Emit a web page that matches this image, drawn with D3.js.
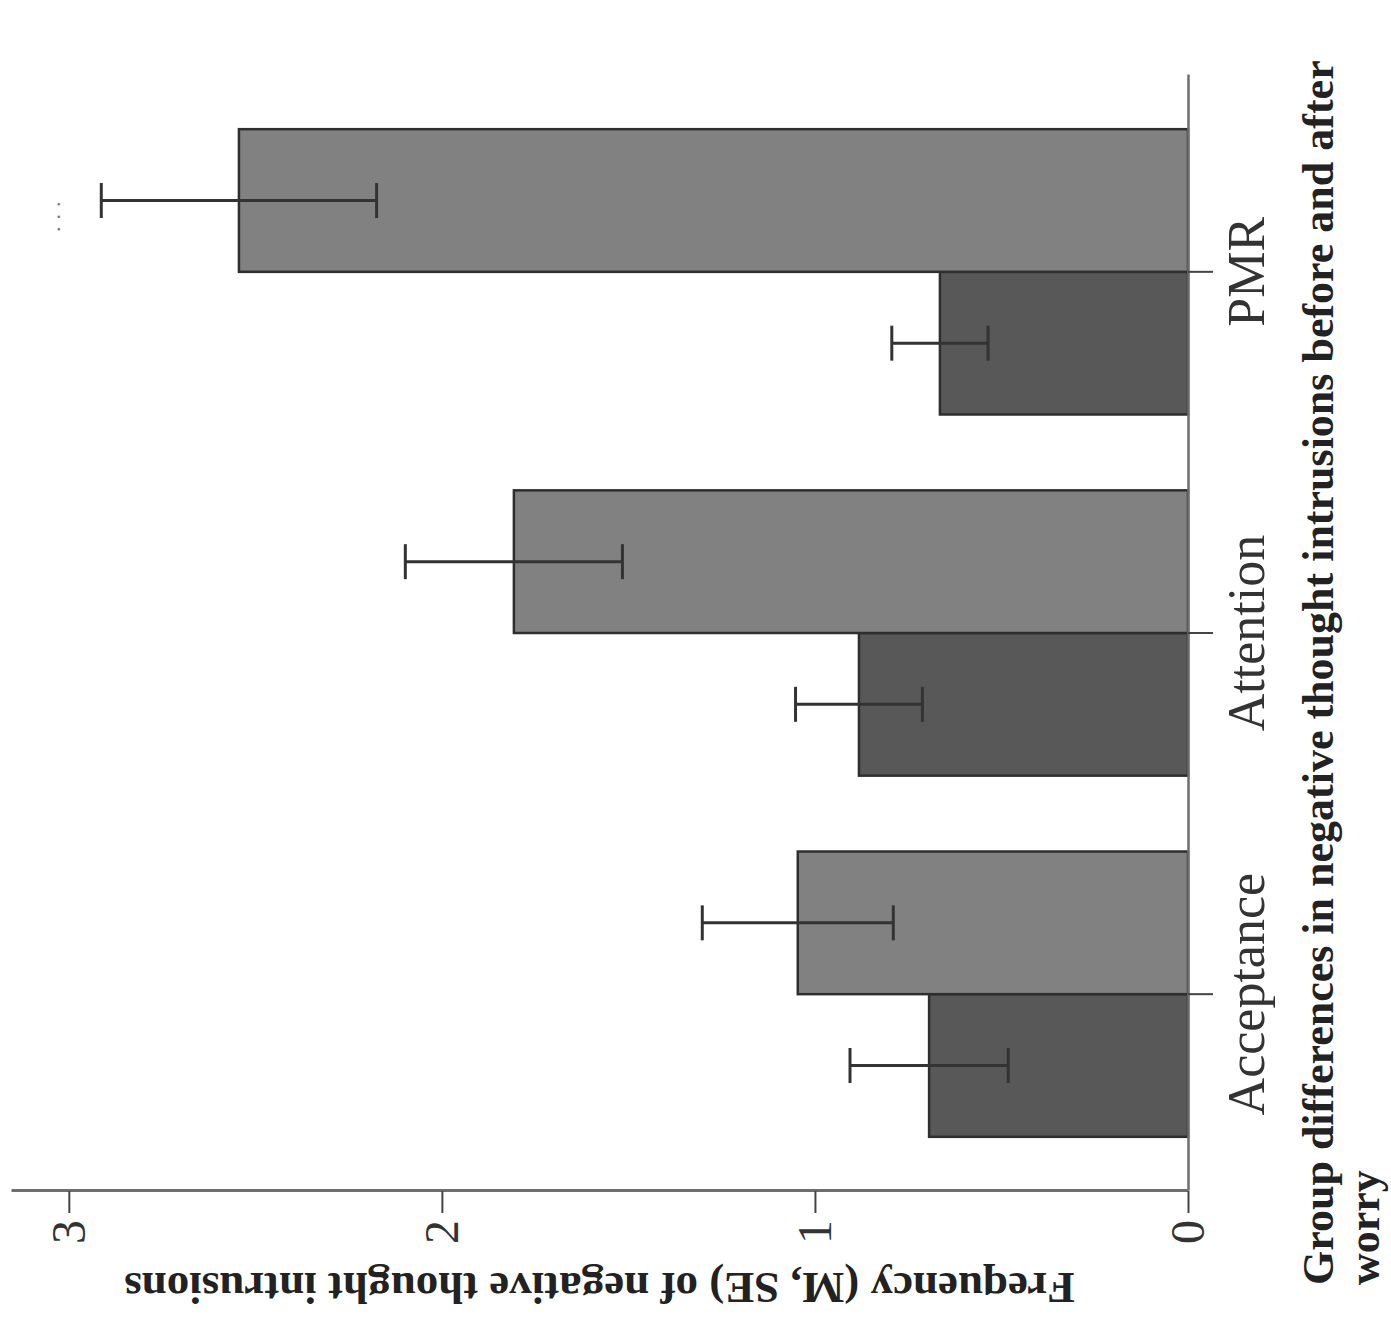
<!DOCTYPE html>
<html>
<head>
<meta charset="utf-8">
<script src="https://cdn.jsdelivr.net/npm/d3@7"></script>
<style>
  body { margin: 0; background: #fff; }
  .tick text { font-family: "Liberation Serif", serif; fill: #333; }
  .cat-axis .tick text { font-size: 52px; }
  .val-axis .tick text { font-size: 48px; }
  .axis-title { font-family: "Liberation Serif", serif; font-weight: bold; fill: #222; }
</style>
</head>
<body>
<div id="chart"></div>
<script>
// data (means and standard errors)
const categories = ["Acceptance", "Attention", "PMR"];
const phases = ["before", "after"];
const beforeMeans = [0.694, 0.882, 0.665];
const afterMeans = [1.046, 1.807, 2.544];
const beforeSE = [0.212, 0.170, 0.129];
const afterSE = [0.256, 0.291, 0.369];
const valueTicks = [0, 1, 2, 3];

// the figure is a vertical bar chart turned 90 degrees counter-clockwise,
// so it is drawn upright in a 1323 x 1391 frame and then rotated
const W = 1323, H = 1391;

const svg = d3.select("#chart")
  .append("svg")
    .attr("width", 1391)
    .attr("height", 1323);

const g = svg.append("g")
    .attr("transform", `translate(0, ${W}) rotate(-90)`);

const x0 = d3.scaleBand()
    .domain(categories)
    .range([132, 1248])
    .paddingInner(0.21)
    .paddingOuter(0.15);

const x1 = d3.scaleBand()
    .domain(phases)
    .range([0, x0.bandwidth()]);

const y = d3.scaleLinear()
    .domain([0, 3.155])
    .range([1188, 11]);

const color = d3.scaleOrdinal()
    .domain(phases)
    .range(["#585858", "#818181"]);

const rows = [];
categories.forEach((c, i) => {
  rows.push({cat: c, phase: "before", mean: beforeMeans[i], se: beforeSE[i]});
  rows.push({cat: c, phase: "after", mean: afterMeans[i], se: afterSE[i]});
});

// bars
g.append("g")
  .selectAll("rect")
  .data(rows)
  .join("rect")
    .attr("x", d => x0(d.cat) + x1(d.phase))
    .attr("y", d => y(d.mean))
    .attr("width", x1.bandwidth())
    .attr("height", d => y(0) - y(d.mean))
    .attr("fill", d => color(d.phase))
    .attr("stroke", "#2e2e2e")
    .attr("stroke-width", 2.5);

// error bars
const capW = 35;
const err = g.append("g")
    .attr("stroke", "#333")
    .attr("stroke-width", 3)
  .selectAll("g")
  .data(rows)
  .join("g")
    .attr("transform", d => `translate(${x0(d.cat) + x1(d.phase) + x1.bandwidth() / 2}, 0)`);

err.append("line")
    .attr("y1", d => y(d.mean - d.se))
    .attr("y2", d => y(d.mean + d.se));
err.append("line")
    .attr("x1", -capW / 2).attr("x2", capW / 2)
    .attr("y1", d => y(d.mean - d.se)).attr("y2", d => y(d.mean - d.se));
err.append("line")
    .attr("x1", -capW / 2).attr("x2", capW / 2)
    .attr("y1", d => y(d.mean + d.se)).attr("y2", d => y(d.mean + d.se));

// axes
const catAxis = g.append("g")
    .attr("class", "cat-axis")
    .attr("transform", `translate(0, ${y(0)})`)
    .call(d3.axisBottom(x0).tickSizeInner(25).tickSizeOuter(0).tickPadding(14));

const valAxis = g.append("g")
    .attr("class", "val-axis")
    .attr("transform", `translate(${x0.range()[0]}, 0)`)
    .call(d3.axisLeft(y).tickValues(valueTicks).tickFormat(d3.format("d"))
      .tickSizeInner(22).tickSizeOuter(0).tickPadding(7));

catAxis.select(".domain").attr("stroke", "#6e6e6e").attr("stroke-width", 2.5);
catAxis.selectAll(".tick line").attr("stroke", "#444").attr("stroke-width", 2);
valAxis.select(".domain").attr("stroke", "#6e6e6e").attr("stroke-width", 3);
valAxis.selectAll(".tick line").attr("stroke", "#444").attr("stroke-width", 2);

// value axis title
g.append("text")
    .attr("class", "axis-title")
    .attr("text-anchor", "middle")
    .attr("transform", `translate(50, ${(y.range()[0] + y.range()[1]) / 2}) rotate(-90)`)
    .attr("font-size", 45)
    .text("Frequency (M, SE) of negative thought intrusions");

// caption under the category axis
const cap = g.append("text")
    .attr("class", "axis-title")
    .attr("font-size", 44);
cap.append("tspan")
    .attr("x", 38).attr("y", 1333)
    .text("Group differences in negative thought intrusions before and after");
cap.append("tspan")
    .attr("x", 38).attr("y", 1379)
    .text("worry");

// cut-off legend, only an ellipsis is left of it
g.append("text")
    .attr("x", 1091)
    .attr("y", 60)
    .attr("font-family", "Liberation Serif, serif")
    .attr("font-size", 22)
    .attr("letter-spacing", 7)
    .attr("fill", "#777")
    .text("...");
</script>
</body>
</html>
